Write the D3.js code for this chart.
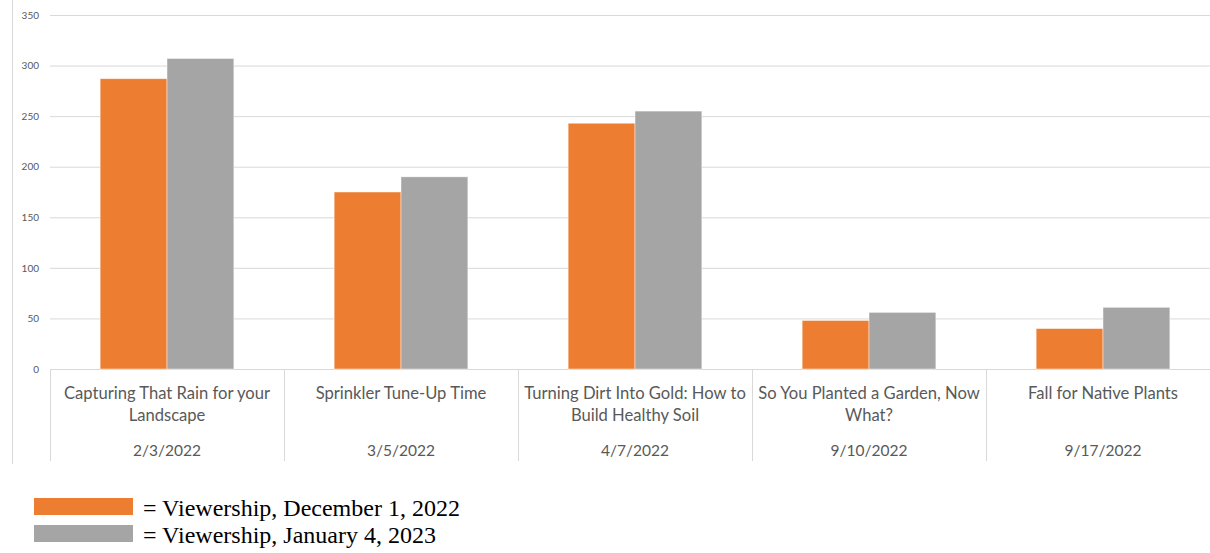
<!DOCTYPE html>
<html>
<head>
<meta charset="utf-8">
<script src="https://cdn.jsdelivr.net/npm/d3@7.9.0/dist/d3.min.js"></script>
<style>
  body { margin: 0; background: #fff; }
  svg { display: block; }
</style>
</head>
<body>
<svg id="chart" width="1210" height="553"></svg>
<script>
// Data
const titles = [
  'Capturing That Rain for your Landscape',
  'Sprinkler Tune-Up Time',
  'Turning Dirt Into Gold: How to Build Healthy Soil',
  'So You Planted a Garden, Now What?',
  'Fall for Native Plants'
];
const dates = ['2/3/2022', '3/5/2022', '4/7/2022', '9/10/2022', '9/17/2022'];
const seriesNames = ['Viewership, December 1, 2022', 'Viewership, January 4, 2023'];
const dec2022 = [287, 175, 243, 48, 40];
const jan2023 = [307, 190, 255, 56, 61];
const yTicks = [0, 50, 100, 150, 200, 250, 300, 350];
const colors = ['#ED7D31', '#A5A5A5'];

const svg = d3.select('#chart');
const catFont = 'Lato, "Open Sans", sans-serif';
const titleSize = 16.6;

const x0 = d3.scaleBand().domain(d3.range(titles.length)).range([50, 1220]).padding(0);
const x1 = d3.scaleBand().domain([0, 1]).range([0, x0.bandwidth()]).paddingInner(0).paddingOuter(0.75);
const y = d3.scaleLinear().domain([0, 350]).range([369, 15]);

// faint ruler line at far left
svg.append('line')
  .attr('x1', 12.5).attr('x2', 12.5).attr('y1', 0).attr('y2', 464)
  .attr('stroke', '#d9d9d9').attr('stroke-width', 1);

// gridlines + y labels
const yAxis = svg.append('g').attr('transform', 'translate(50,0)')
  .call(d3.axisLeft(y).tickValues(yTicks).tickSize(-1170).tickPadding(11));
yAxis.select('.domain').remove();
yAxis.selectAll('.tick line').attr('stroke', '#d9d9d9').attr('stroke-width', 1);
yAxis.selectAll('.tick text')
  .attr('fill', '#595959')
  .style('font-family', catFont)
  .style('font-size', '10px');

// bars
const rows = titles.map((t, i) => [dec2022[i], jan2023[i]]);
const groups = svg.append('g').selectAll('g')
  .data(rows)
  .join('g')
  .attr('transform', (d, i) => `translate(${x0(i)},0)`);

groups.selectAll('rect')
  .data(d => d.map((v, s) => ({ v, s })))
  .join('rect')
  .attr('x', d => x1(d.s))
  .attr('y', d => y(d.v))
  .attr('width', x1.bandwidth())
  .attr('height', d => y(0) - y(d.v))
  .attr('fill', d => colors[d.s])
  .attr('stroke', 'rgba(255,255,255,0.6)')
  .attr('stroke-width', 0.75);

// category axis: divider lines and two-level labels
const catAxis = svg.append('g');
const bounds = d3.range(titles.length + 1).map(i => i < titles.length ? x0(i) : x0(i - 1) + x0.bandwidth());
catAxis.selectAll('line')
  .data(bounds)
  .join('line')
  .attr('x1', d => Math.round(d) + 0.5)
  .attr('x2', d => Math.round(d) + 0.5)
  .attr('y1', 369)
  .attr('y2', 461)
  .attr('stroke', '#d9d9d9');

// wrap title into lines that fit the band
function wrapLines(text, maxW) {
  const probe = svg.append('text').style('font-family', catFont).style('font-size', titleSize + 'px');
  const words = text.split(' ');
  const lines = [];
  let cur = '';
  words.forEach(w => {
    const test = cur ? cur + ' ' + w : w;
    probe.text(test);
    if (probe.node().getComputedTextLength() > maxW && cur) {
      lines.push(cur);
      cur = w;
    } else {
      cur = test;
    }
  });
  lines.push(cur);
  probe.remove();
  return lines;
}

titles.forEach((t, i) => {
  const cx = x0(i) + x0.bandwidth() / 2;
  const lines = wrapLines(t, x0.bandwidth() - 2);
  const txt = catAxis.append('text')
    .attr('text-anchor', 'middle')
    .attr('fill', '#595959')
    .style('font-family', catFont)
    .style('font-size', titleSize + 'px');
  lines.forEach((ln, k) => {
    txt.append('tspan').attr('x', cx).attr('y', 399 + k * 22).text(ln);
  });
  catAxis.append('text')
    .attr('x', cx)
    .attr('y', 456)
    .attr('text-anchor', 'middle')
    .attr('fill', '#595959')
    .style('font-family', catFont)
    .style('font-size', '15.5px')
    .text(dates[i]);
});

// legend
const legend = svg.append('g');
seriesNames.forEach((name, i) => {
  legend.append('rect')
    .attr('x', 34).attr('y', 498 + i * 27)
    .attr('width', 99).attr('height', 17)
    .attr('fill', colors[i]);
  legend.append('text')
    .attr('x', 143).attr('y', 516 + i * 27)
    .attr('fill', '#000')
    .style('font-family', '"Liberation Serif", "Times New Roman", serif')
    .style('font-size', '24px')
    .text('= ' + name);
});
</script>
</body>
</html>
